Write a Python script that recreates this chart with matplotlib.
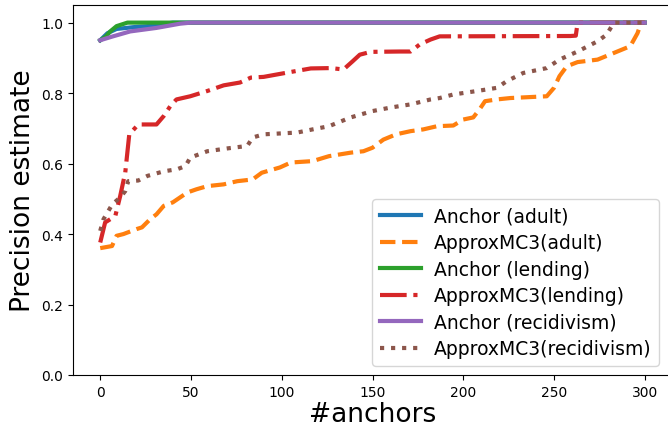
import matplotlib
matplotlib.use("Agg")
import matplotlib.pyplot as plt

# Anchor (adult)
adult_anchor_x = [0, 4, 9, 18, 26, 40, 300]
adult_anchor_y = [0.95, 0.97, 0.982, 0.987, 0.99, 1.0, 1.0]
# ApproxMC3 (adult)
adult_mc_x = [0, 6.5, 9, 12.8, 20, 23, 27.5, 31, 35, 40, 48, 53, 59, 68, 75.5, 84, 89, 99, 105, 117, 126,
              138, 145, 150, 156, 163, 171, 178, 185.5, 194.5, 200, 205.5, 209, 212, 218.5, 226, 246, 250,
              253, 257, 263, 274, 283, 292, 296, 298, 300]
adult_mc_y = [0.36, 0.366, 0.395, 0.40, 0.414, 0.419, 0.442, 0.456, 0.48, 0.49, 0.518, 0.527, 0.536, 0.541,
              0.55, 0.555, 0.574, 0.589, 0.603, 0.607, 0.621, 0.631, 0.635, 0.645, 0.668, 0.683, 0.692, 0.697,
              0.706, 0.708, 0.725, 0.731, 0.754, 0.777, 0.782, 0.786, 0.791, 0.815, 0.848, 0.876, 0.888, 0.895,
              0.914, 0.933, 0.97, 1.0, 1.0]
# Anchor (lending)
lending_anchor_x = [0, 3, 5.5, 9, 15, 300]
lending_anchor_y = [0.95, 0.96, 0.975, 0.99, 1.0, 1.0]
# ApproxMC3 (lending)
lending_mc_x = [0, 2.7, 8.3, 11, 13.8, 16, 21, 31, 35, 38.6, 42, 49.6, 59, 68, 77, 83, 90, 97.5, 105, 116,
                127, 134, 139, 143, 149, 165, 171, 176, 182, 187, 259, 262, 263, 300]
lending_mc_y = [0.376, 0.433, 0.451, 0.508, 0.575, 0.683, 0.711, 0.711, 0.735, 0.763, 0.782, 0.791, 0.806,
                0.822, 0.83, 0.844, 0.846, 0.853, 0.86, 0.87, 0.871, 0.867, 0.89, 0.909, 0.917, 0.918, 0.918,
                0.938, 0.952, 0.961, 0.962, 0.963, 1.0, 1.0]
# Anchor (recidivism)
recid_anchor_x = [0, 7, 16.5, 31, 44, 50, 300]
recid_anchor_y = [0.95, 0.961, 0.975, 0.985, 0.997, 1.0, 1.0]
# ApproxMC3 (recidivism)
recid_mc_x = [0, 1.8, 6.6, 11, 13.8, 15.4, 21, 26, 35, 42.4, 47, 49.6, 59, 70, 81, 84, 90, 108.5, 117, 126,
              138, 150, 160, 171, 182, 187, 194.5, 207.6, 218.6, 224, 233, 246, 253, 263, 274, 279, 283, 300]
recid_mc_y = [0.409, 0.442, 0.484, 0.504, 0.522, 0.55, 0.552, 0.565, 0.578, 0.584, 0.593, 0.617, 0.635,
              0.643, 0.65, 0.674, 0.683, 0.688, 0.697, 0.706, 0.731, 0.749, 0.759, 0.768, 0.782, 0.786,
              0.796, 0.806, 0.815, 0.834, 0.857, 0.871, 0.895, 0.918, 0.947, 0.966, 1.0, 1.0]

x_ticks = [0, 50, 100, 150, 200, 250, 300]
y_ticks = [0.0, 0.2, 0.4, 0.6, 0.8, 1.0]

fig = plt.figure(figsize=(6.68, 4.27), dpi=100)
W, H = 668, 427
ax = fig.add_axes([73 / W, (H - 376) / H, (672 - 73) / W, (376 - 6) / H])

lw = 3
ax.plot(adult_anchor_x, adult_anchor_y, color="#1f77b4", lw=lw, label="Anchor (adult)")
ax.plot(adult_mc_x, adult_mc_y, color="#ff7f0e", lw=lw, ls="--", label="ApproxMC3(adult)")
ax.plot(lending_anchor_x, lending_anchor_y, color="#2ca02c", lw=lw, label="Anchor (lending)")
ax.plot(lending_mc_x, lending_mc_y, color="#d62728", lw=lw, ls="-.", label="ApproxMC3(lending)")
ax.plot(recid_anchor_x, recid_anchor_y, color="#9467bd", lw=lw, label="Anchor (recidivism)")
ax.plot(recid_mc_x, recid_mc_y, color="#8c564b", lw=lw, ls=":", label="ApproxMC3(recidivism)")

ax.set_xlim(-15, 315)
ax.set_ylim(0, 1.05)
ax.set_xticks(x_ticks)
ax.set_yticks(y_ticks)
ax.set_xlabel("#anchors", fontsize=19, labelpad=2)
ax.set_ylabel("Precision estimate", fontsize=19)
ax.legend(loc="lower right", fontsize=13.5, bbox_to_anchor=(0.994, 0.0),
          handlelength=2.2, handletextpad=0.7, labelspacing=0.4)

fig.savefig("out.png", dpi=100)
